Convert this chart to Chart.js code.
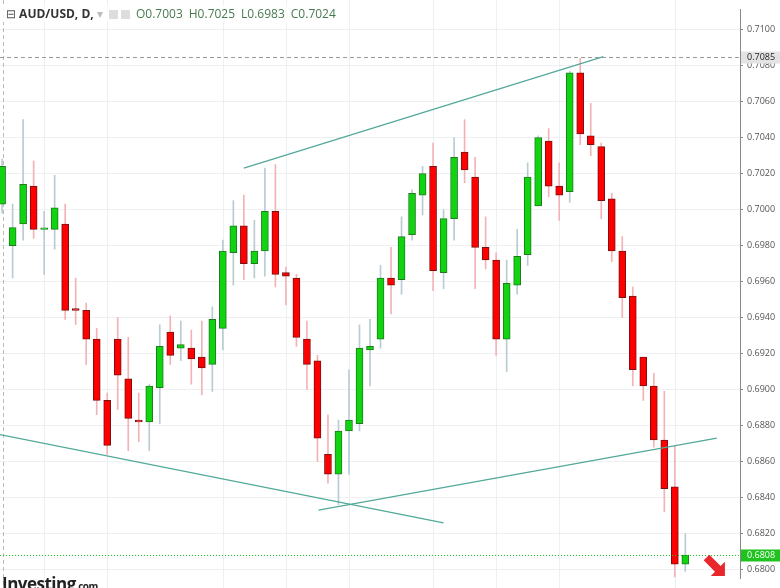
<!DOCTYPE html>
<html><head><meta charset="utf-8">
<script src="https://cdn.jsdelivr.net/npm/chart.js@4.4.1/dist/chart.umd.min.js"></script>
<style>
html,body{margin:0;padding:0;background:#fff;}
#wrap{position:relative;width:780px;height:588px;overflow:hidden}
#hdr{position:absolute;left:2px;top:5px;font:bold 12px "Open Sans",sans-serif;color:#333;background:rgba(255,255,255,0.85);padding:0 4px;white-space:nowrap}
#hdr .v{color:#4a7a50;font-weight:normal;margin-left:6px}
#hdr .ic{display:inline-block;width:9px;height:9px;background:#ddd;margin-left:3px;vertical-align:-1px}
#logo{position:absolute;left:2px;top:572px;font:bold 17px "Open Sans",sans-serif;color:#222;letter-spacing:-0.5px}
</style></head><body>
<div id="wrap"><canvas id="c" width="780" height="588"></canvas>
<div id="hdr"><span style="color:#555;font-weight:normal">⊟</span> AUD/USD, D, <span style="color:#bbb;font-weight:normal">▾</span> <span class="ic"></span><span class="ic"></span><span class="v">O0.7003</span><span class="v">H0.7025</span><span class="v">L0.6983</span><span class="v">C0.7024</span></div>
<div id="logo">Investing<span style="font-size:10px">.com</span></div>
</div>
<script>
const opens  = [0.7003,0.6980,0.6992,0.7013,0.6989,0.6989,0.6992,0.6945,0.6944,0.6928,0.6894,0.6928,0.6906,0.6883,0.6882,0.6901,0.6932,0.6923,0.6923,0.6918,0.6914,0.6934,0.6976,0.6991,0.6970,0.6977,0.6999,0.6965,0.6962,0.6928,0.6916,0.6864,0.6853,0.6877,0.6881,0.6922,0.6928,0.6962,0.6961,0.6986,0.7008,0.7024,0.6965,0.6995,0.7032,0.7018,0.6979,0.6972,0.6928,0.6958,0.6975,0.7002,0.7038,0.7013,0.7010,0.7076,0.7041,0.7035,0.7006,0.6977,0.6952,0.6918,0.6902,0.6872,0.6846,0.6803];
const highs  = [0.7028,0.7003,0.7050,0.7027,0.6999,0.7019,0.7003,0.6962,0.6948,0.6934,0.6898,0.6940,0.6929,0.6898,0.6903,0.6936,0.6941,0.6938,0.6933,0.6938,0.6946,0.6983,0.7005,0.7008,0.6994,0.7023,0.7025,0.6968,0.6964,0.6938,0.6919,0.6886,0.6883,0.6911,0.6936,0.6939,0.6969,0.6979,0.6996,0.7011,0.7024,0.7037,0.7000,0.7040,0.7050,0.7029,0.6996,0.6976,0.6972,0.6989,0.7026,0.7041,0.7045,0.7026,0.7077,0.7084,0.7059,0.7037,0.7009,0.6985,0.6957,0.6918,0.6909,0.6899,0.6869,0.6820];
const lows   = [0.6998,0.6962,0.6983,0.6984,0.6964,0.6978,0.6939,0.6936,0.6914,0.6886,0.6864,0.6889,0.6866,0.6871,0.6866,0.6881,0.6914,0.6916,0.6903,0.6897,0.6899,0.6922,0.6958,0.6961,0.6962,0.6963,0.6957,0.6947,0.6924,0.6900,0.6860,0.6848,0.6836,0.6853,0.6877,0.6902,0.6923,0.6942,0.6953,0.6983,0.6997,0.6955,0.6956,0.6983,0.7015,0.6956,0.6967,0.6919,0.6910,0.6953,0.6969,0.7002,0.7007,0.6994,0.7004,0.7036,0.7030,0.6995,0.6971,0.6940,0.6902,0.6894,0.6868,0.6832,0.6796,0.6799];
const closes = [0.7024,0.6990,0.7014,0.6989,0.6989,0.7001,0.6944,0.6944,0.6928,0.6894,0.6869,0.6908,0.6884,0.6882,0.6902,0.6924,0.6919,0.6925,0.6917,0.6912,0.6939,0.6977,0.6991,0.6970,0.6977,0.6999,0.6964,0.6963,0.6929,0.6914,0.6873,0.6853,0.6877,0.6883,0.6923,0.6924,0.6962,0.6958,0.6985,0.7009,0.7020,0.6966,0.6995,0.7029,0.7022,0.6979,0.6972,0.6928,0.6959,0.6974,0.7018,0.7040,0.7013,0.7008,0.7076,0.7042,0.7036,0.7005,0.6977,0.6951,0.6911,0.6902,0.6872,0.6845,0.6803,0.6808];
const tickValues = [0.6800,0.6820,0.6840,0.6860,0.6880,0.6900,0.6920,0.6940,0.6960,0.6980,0.7000,0.7020,0.7040,0.7060,0.7080,0.7100];
const gridIdx = [4,10,21,27,33,41,47,53,64];
const trendA = [{x:-0.2,y:0.6875},{x:42,y:0.6826}];
const trendB = [{x:30.1,y:0.6833},{x:68,y:0.6873}];
const trendC = [{x:23,y:0.7023},{x:57.2,y:0.7085}];
const highLine = 0.7085, lastLine = 0.6808;

const up = opens.map((o,i)=>closes[i]>=o);
const bodies = opens.map((o,i)=>({x:i,y:[o, Math.abs(closes[i]-o)<0.00008 ? o+(up[i]?0.00008:-0.00008) : closes[i]]}));
const wicks = highs.map((h,i)=>({x:i,y:[lows[i],h]}));
const lineDs = (d)=>({type:'line',data:d,borderColor:'#52a89a',borderWidth:1.2,pointRadius:0,fill:false,order:0});

const overlay = {
  id:'overlay',
  beforeDatasetsDraw(ch){
    const {ctx,chartArea:a,scales:{x,y}}=ch;
    ctx.save();ctx.strokeStyle='#edf0f3';ctx.lineWidth=1;
    gridIdx.forEach(g=>{const px=Math.round(x.getPixelForValue(g))+0.5;ctx.beginPath();ctx.moveTo(px,0);ctx.lineTo(px,588);ctx.stroke();});
    ctx.strokeStyle='#bbb';ctx.setLineDash([4,3]);
    ctx.beginPath();ctx.moveTo(3.5,0);ctx.lineTo(3.5,588);ctx.stroke();
    ctx.restore();
  },
  afterDraw(ch){
    const {ctx,chartArea:a,scales:{y}}=ch;
    ctx.save();
    const hy=Math.round(y.getPixelForValue(highLine))+0.5;
    ctx.strokeStyle='#999';ctx.setLineDash([4,3]);ctx.beginPath();ctx.moveTo(a.left,hy);ctx.lineTo(a.right,hy);ctx.stroke();
    const ly=Math.round(y.getPixelForValue(lastLine))+0.5;
    ctx.strokeStyle='#22c322';ctx.setLineDash([1,2]);ctx.beginPath();ctx.moveTo(a.left,ly);ctx.lineTo(a.right,ly);ctx.stroke();
    ctx.setLineDash([]);
    ctx.font='9px "Open Sans",sans-serif';ctx.textBaseline='middle';
    ctx.fillStyle='#e3e3e3';ctx.fillRect(a.right+1,hy-6,39,12);
    ctx.fillStyle='#222';ctx.fillText(highLine.toFixed(4),a.right+7,hy);
    ctx.fillStyle='#1fc21f';ctx.fillRect(a.right+1,ly-6,39,12);
    ctx.fillStyle='#fff';ctx.fillText(lastLine.toFixed(4),a.right+7,ly);
    ctx.save();ctx.translate(715,566);ctx.rotate(Math.PI/4);
    ctx.fillStyle='#e8262b';ctx.beginPath();
    ctx.moveTo(-12,-4);ctx.lineTo(4,-4);ctx.lineTo(4,-10);ctx.lineTo(14,0);ctx.lineTo(4,10);ctx.lineTo(4,4);ctx.lineTo(-12,4);ctx.closePath();ctx.fill();
    ctx.restore();
    ctx.restore();
  }
};

new Chart(document.getElementById('c'),{
  type:'bar',
  data:{datasets:[
    {data:wicks,backgroundColor:up.map(u=>u?'#b9ccd4':'#f3b3b6'),barThickness:1,grouped:false,order:2},
    {data:bodies,backgroundColor:up.map(u=>u?'#11d411':'#ff0000'),borderColor:up.map(u=>u?'#1f7a1f':'#7a1010'),borderWidth:1,borderSkipped:false,barThickness:7,grouped:false,order:1},
    lineDs(trendA),lineDs(trendB),lineDs(trendC)
  ]},
  options:{
    responsive:false,animation:false,devicePixelRatio:1,
    layout:{padding:0},
    plugins:{legend:{display:false},tooltip:{enabled:false}},
    scales:{
      x:{type:'linear',min:-0.2,max:70.2,display:false,offset:false},
      y:{position:'right',min:0.6795,max:0.71112,
        afterBuildTicks(ax){ax.ticks=tickValues.map(v=>({value:v}));},
        afterFit(ax){ax.width=40;},
        grid:{color:'#eef0f3',drawTicks:true,tickLength:3,tickColor:'#888'},
        border:{color:'#888'},
        ticks:{font:{size:9,family:'"Open Sans",sans-serif'},color:'#555',padding:4,callback:v=>Number(v).toFixed(4)}
      }
    }
  },
  plugins:[overlay]
});
</script></body></html>
